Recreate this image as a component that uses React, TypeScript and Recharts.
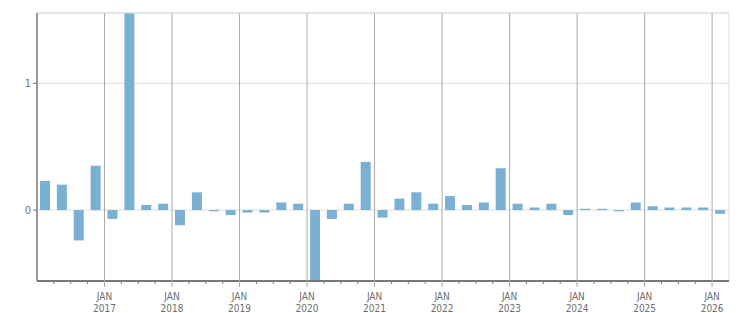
import { ComposedChart, Bar, XAxis, YAxis, CartesianGrid, ReferenceLine } from 'recharts';

const years = [2016, 2017, 2018, 2019, 2020, 2021, 2022, 2023, 2024, 2025, 2026];
const quarters = ['Q1', 'Q2', 'Q3', 'Q4'];
const categories = years.flatMap((y) => quarters.map((q) => `${y} ${q}`)).slice(0, 41);

const values = [
  0.23, 0.2, -0.24, 0.35,
  -0.07, 1.6, 0.04, 0.05,
  -0.12, 0.14, -0.01, -0.04,
  -0.02, -0.02, 0.06, 0.05,
  -0.6, -0.07, 0.05, 0.38,
  -0.06, 0.09, 0.14, 0.05,
  0.11, 0.04, 0.06, 0.33,
  0.05, 0.02, 0.05, -0.04,
  0.01, 0.01, -0.01, 0.06,
  0.03, 0.02, 0.02, 0.02,
  -0.03,
];

const yTicks = [0, 1];
const yMin = -0.56;
const yMax = 1.555;

const data = values.map((v, i) => ({ i, label: categories[i], value: v }));

// quarter boundaries, JAN ones get a label + gridline
const boundaries = categories.slice(1).map((_, k) => k + 0.5);
const janBoundaries = boundaries.filter((b) => (b + 0.5) % 4 === 0);
const lastEdge = categories.length - 0.5;

const font = '"DejaVu Sans Condensed", "DejaVu Sans", sans-serif';

const XTick = (props: any) => {
  const { x, y, payload } = props;
  const k = payload.value + 0.5;
  if (k % 4 !== 0) {
    return <line x1={x} x2={x} y1={y} y2={y + 3} stroke="#777" />;
  }
  const year = years[k / 4];
  return (
    <g>
      <line x1={x} x2={x} y1={y - 1} y2={y + 6} stroke="#aaa" />
      <text x={x} y={y + 19} textAnchor="middle" fill="#6e6e6e" fontSize={10} fontFamily={font}>
        JAN
      </text>
      <text x={x} y={y + 31} textAnchor="middle" fill="#6e6e6e" fontSize={10} fontFamily={font}>
        {year}
      </text>
    </g>
  );
};

export default function App() {
  return (
    <div style={{ position: 'absolute', left: 0, top: 0, width: 751, height: 313, background: '#fff' }}>
      <ComposedChart
        width={751}
        height={313}
        data={data}
        margin={{ top: 13, right: 22, left: 0, bottom: 0 }}
        style={{ fontFamily: font }}
      >
        <CartesianGrid vertical={false} stroke="#ddd" />
        {janBoundaries.map((b) => (
          <ReferenceLine key={b} x={b} stroke="#aaa" />
        ))}
        <ReferenceLine y={yMax} stroke="#ddd" />
        <ReferenceLine x={lastEdge} stroke="#ddd" />
        <XAxis
          type="number"
          dataKey="i"
          domain={[-0.5, lastEdge]}
          ticks={boundaries}
          interval={0}
          tick={<XTick />}
          tickLine={false}
          tickSize={0}
          tickMargin={0}
          height={32}
          axisLine={{ stroke: '#777', strokeWidth: 2 }}
        />
        <YAxis
          type="number"
          domain={[yMin, yMax]}
          ticks={yTicks}
          allowDataOverflow
          width={37}
          tickSize={4}
          tick={{ fill: '#777', fontSize: 11, fontFamily: font }}
          tickLine={{ stroke: '#777' }}
          axisLine={{ stroke: '#777', strokeWidth: 1.5 }}
        />
        <Bar dataKey="value" fill="#7ab0d3" barSize={10} isAnimationActive={false} />
      </ComposedChart>
    </div>
  );
}
